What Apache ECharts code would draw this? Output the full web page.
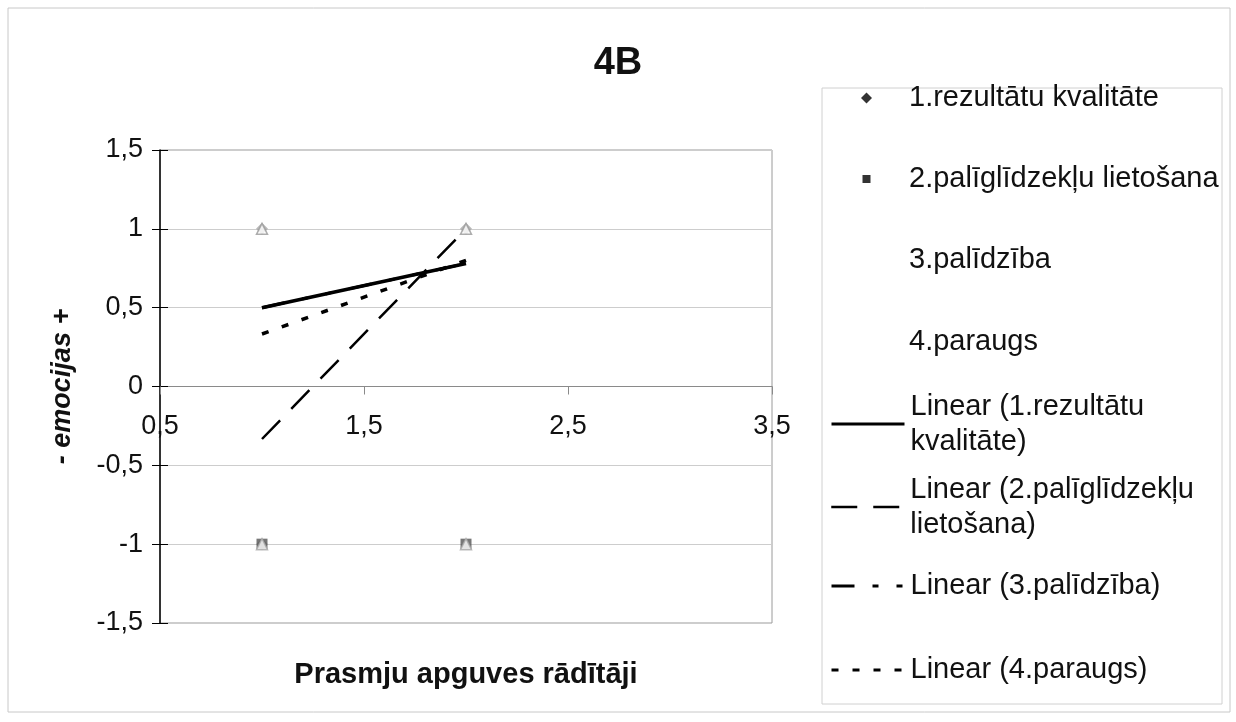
<!DOCTYPE html>
<html>
<head>
<meta charset="utf-8">
<script src="https://cdn.jsdelivr.net/npm/echarts@6/dist/echarts.min.js"></script>
<style>
  html, body { margin: 0; padding: 0; background: #fff; }
  #chart { width: 1236px; height: 722px; }
</style>
</head>
<body>
<div id="chart"></div>
<script>
// ---- data ----
const chartTitle = '4B';
const xAxisTitle = 'Prasmju apguves rādītāji';
const yAxisTitle = '- emocijas +';
const xTickValues = [0.5, 1.5, 2.5, 3.5];
const xRange = [0.5, 3.5];
const yRange = [-1.5, 1.5];
const yStep = 0.5;
const xAxisCrossesAt = 0;

const seriesNames = ['1.rezultātu kvalitāte', '2.palīglīdzekļu lietošana', '3.palīdzība', '4.paraugs'];
const series1Pts = [[1, 1], [2, 1], [1, -1]];
const series2Pts = [[2, -1], [1, -1]];
const series3Pts = [[1, 1], [2, 1]];
const series4Pts = [[1, -1], [2, -1]];

const trendNames = ['Linear (1.rezultātu kvalitāte)', 'Linear (2.palīglīdzekļu lietošana)', 'Linear (3.palīdzība)', 'Linear (4.paraugs)'];
const trendLabels = ['Linear (1.rezultātu\nkvalitāte)', 'Linear (2.palīglīdzekļu\nlietošana)', 'Linear (3.palīdzība)', 'Linear (4.paraugs)'];
const trend1 = [[1, 0.5], [2, 0.78]];
const trend2 = [[1, -0.333], [2, 1.0]];
const trend3 = [[1, 0.5], [2, 0.78]];
const trend4 = [[1, 0.333], [2, 0.8]];

// ---- chart ----
const FONT = '"Liberation Sans", Arial, Helvetica, sans-serif';
const chart = echarts.init(document.getElementById('chart'), null, { renderer: 'canvas' });
const fmt = v => String(v).replace('.', ',');

// grid layout
const GRID = { left: 160, right: 464, top: 150, bottom: 99 };
const plotH = 722 - GRID.top - GRID.bottom;
// distance from plot bottom up to where the x axis crosses (value 0)
const xAxisOffset = -plotH * (xAxisCrossesAt - yRange[0]) / (yRange[1] - yRange[0]);

// legend layout
const legendCenters = [98, 179, 260, 342, 424, 507, 586, 670];
const legendLH = 35;
const legendIconCenterX = 866.5;
const legendTextX = 909;
const allLegendNames = seriesNames.concat(trendNames);
const legendDisplay = {};
seriesNames.forEach(n => legendDisplay[n] = n);
trendNames.forEach((n, i) => legendDisplay[n] = trendLabels[i]);
const markerLegend = [
  { icon: 'diamond', size: 11, color: '#000' },
  { icon: 'rect', size: 8, color: '#000' },
  { icon: 'rect', size: 8, color: 'rgba(0,0,0,0)' },
  { icon: 'rect', size: 8, color: 'rgba(0,0,0,0)' }
];
const trendStyles = [
  { width: 3.5, type: 'solid' },
  { width: 2.5, type: [26, 16] },
  { width: 3, type: [23, 18, 6, 18, 6, 18] },
  { width: 3.5, type: [7, 14] }
];

const legends = allLegendNames.map((name, i) => {
  const twoLine = legendDisplay[name].indexOf('\n') >= 0;
  const isMarker = i < 4;
  const item = { name: name };
  let itemWidth = 73, itemHeight = 14, left = 830, padLeft = 0;
  const lg = {};
  if (isMarker) {
    const m = markerLegend[i];
    item.icon = m.icon;
    item.itemStyle = { color: m.color, borderColor: m.color, borderWidth: 0 };
    itemWidth = m.size; itemHeight = m.size;
    left = legendIconCenterX - m.size / 2;
    padLeft = legendTextX - (left + itemWidth + 5);
  } else {
    item.itemStyle = { color: 'rgba(0,0,0,0)', borderColor: 'rgba(0,0,0,0)', borderWidth: 0 };
    const ts = trendStyles[i - 4];
    lg.lineStyle = { width: Math.min(ts.width, 3), type: ts.type, color: '#000' };
    padLeft = legendTextX - (left + itemWidth + 5);
  }
  const h = twoLine ? legendLH * 3 : legendLH;
  return Object.assign({
    data: [item],
    left: left,
    top: legendCenters[i] - h / 2,
    orient: 'vertical',
    padding: 0,
    itemWidth: itemWidth,
    itemHeight: itemHeight,
    selectedMode: false,
    formatter: n => legendDisplay[n],
    textStyle: {
      fontFamily: FONT, fontSize: 29, color: '#111', lineHeight: legendLH,
      padding: [twoLine ? legendLH : 0, 0, 0, padLeft]
    }
  }, lg);
});

const option = {
  backgroundColor: '#fff',
  animation: false,
  title: {
    text: chartTitle,
    left: 'center', top: 40,
    textStyle: { fontFamily: FONT, fontSize: 38, fontWeight: 'bold', color: '#111' }
  },
  legend: legends,
  graphic: [
    { type: 'rect', shape: { x: 8, y: 8, width: 1222, height: 704 }, style: { fill: 'none', stroke: '#c8c8c8', lineWidth: 1 }, silent: true },
    { type: 'rect', shape: { x: 822, y: 88, width: 400, height: 616 }, style: { fill: 'none', stroke: '#d0d0d0', lineWidth: 1 }, silent: true }
  ],
  grid: Object.assign({
    containLabel: false, outerBoundsMode: 'none',
    show: true, borderColor: '#9a9a9a', borderWidth: 1, backgroundColor: '#fff'
  }, GRID),
  xAxis: {
    type: 'value', min: xRange[0], max: xRange[1],
    position: 'bottom', offset: xAxisOffset,
    name: xAxisTitle, nameLocation: 'middle', nameGap: 274,
    nameTextStyle: { fontFamily: FONT, fontSize: 29, fontWeight: 'bold', color: '#111' },
    axisLine: { onZero: false, lineStyle: { color: '#8a8a8a', width: 1 } },
    axisTick: { show: true, customValues: xTickValues, length: 8, lineStyle: { color: '#8a8a8a' } },
    axisLabel: { customValues: xTickValues, formatter: fmt, margin: 27, fontFamily: FONT, fontSize: 27, color: '#111' },
    splitLine: { show: false }
  },
  yAxis: [
    {
      type: 'value', min: yRange[0], max: yRange[1], interval: yStep,
      name: yAxisTitle, nameLocation: 'middle', nameGap: 84,
      nameTextStyle: { fontFamily: FONT, fontSize: 27, fontWeight: 'bold', fontStyle: 'italic', color: '#111' },
      axisLine: { show: true, onZero: false, lineStyle: { color: '#000', width: 1.5 } },
      axisTick: { show: true, length: 8, lineStyle: { color: '#000' } },
      axisLabel: { formatter: fmt, margin: 17, fontFamily: FONT, fontSize: 27, color: '#111' },
      splitLine: { show: true, lineStyle: { color: '#cdcdcd', width: 1 } }
    },
    {
      type: 'value', min: yRange[0], max: yRange[1], interval: yStep, position: 'left',
      axisLine: { show: false, onZero: false }, axisLabel: { show: false }, splitLine: { show: false },
      axisTick: { show: true, inside: true, length: 8, lineStyle: { color: '#000' } }
    }
  ],
  series: [
    { name: seriesNames[0], type: 'scatter', data: series1Pts, symbol: 'diamond', symbolSize: 12, itemStyle: { color: '#a8a8a8' }, z: 3 },
    { name: seriesNames[1], type: 'scatter', data: series2Pts, symbol: 'rect', symbolSize: 11, itemStyle: { color: '#555' }, z: 3 },
    { name: seriesNames[2], type: 'scatter', data: series3Pts, symbol: 'triangle', symbolSize: 11, itemStyle: { color: '#fff', borderColor: '#999', borderWidth: 1.5 }, z: 3 },
    { name: seriesNames[3], type: 'scatter', data: series4Pts, symbol: 'triangle', symbolSize: 11, itemStyle: { color: '#fff', borderColor: '#aaa', borderWidth: 1.5 }, z: 3 },
    { name: trendNames[0], type: 'line', data: trend1, symbol: 'none', lineStyle: Object.assign({ color: '#000' }, trendStyles[0]), z: 4 },
    { name: trendNames[1], type: 'line', data: trend2, symbol: 'none', lineStyle: Object.assign({ color: '#000' }, trendStyles[1]), z: 4 },
    { name: trendNames[2], type: 'line', data: trend3, symbol: 'none', lineStyle: Object.assign({ color: '#000' }, trendStyles[2]), z: 4 },
    { name: trendNames[3], type: 'line', data: trend4, symbol: 'none', lineStyle: Object.assign({ color: '#000' }, trendStyles[3]), z: 5 }
  ]
};
chart.setOption(option);
</script>
</body>
</html>
